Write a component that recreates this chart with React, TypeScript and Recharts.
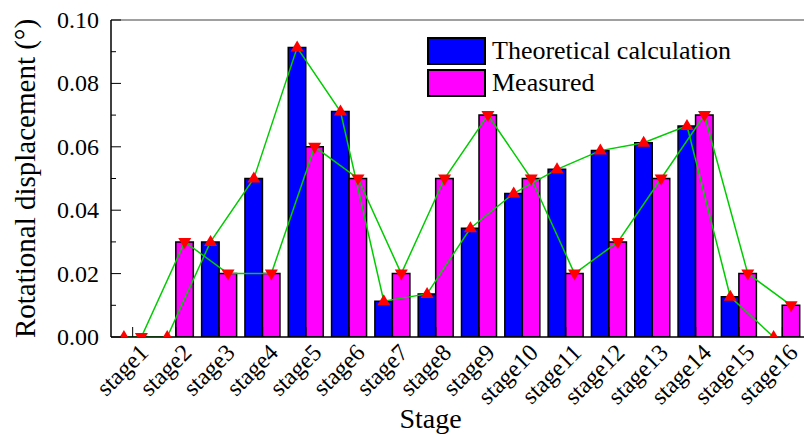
import React from 'react';
import { ComposedChart, Bar, Line, XAxis, YAxis, ReferenceLine, Legend, Label } from 'recharts';

const stages = ['stage1', 'stage2', 'stage3', 'stage4', 'stage5', 'stage6', 'stage7', 'stage8', 'stage9', 'stage10', 'stage11', 'stage12', 'stage13', 'stage14', 'stage15', 'stage16'];
const theoretical = [0, 0, 0.030, 0.050, 0.0913, 0.0711, 0.0113, 0.0136, 0.0343, 0.0453, 0.0529, 0.0588, 0.0613, 0.0666, 0.0127, 0];
const measured = [0, 0.03, 0.02, 0.02, 0.06, 0.05, 0.02, 0.05, 0.07, 0.05, 0.02, 0.03, 0.05, 0.07, 0.02, 0.01];
const yTicks = [0, 0.01, 0.02, 0.03, 0.04, 0.05, 0.06, 0.07, 0.08, 0.09, 0.1];
const yMajorTicks = [0, 0.02, 0.04, 0.06, 0.08, 0.1];
const seriesNames = ['Theoretical calculation', 'Measured'];

const data = stages.map((s, i) => ({ stage: s, theoretical: theoretical[i], measured: measured[i] }));

const FONT = '"Liberation Serif", "Times New Roman", serif';
const BLUE = '#0000ff';
const MAGENTA = '#ff00ff';
const GREEN = '#00cc00';
const RED = '#ff0000';

const XTick = (props: any) => {
  const { x, y, payload } = props;
  return (
    <g>
      <line x1={x} y1={y} x2={x} y2={y - 10} stroke="#000" strokeWidth={1} />
      <text
        x={x + 17}
        y={y + 17}
        textAnchor="end"
        transform={`rotate(-45, ${x + 17}, ${y + 17})`}
        fontFamily={FONT}
        fontSize={24}
        fill="#000"
      >
        {payload.value}
      </text>
    </g>
  );
};

const YTick = (props: any) => {
  const { x, y, payload } = props;
  const major = yMajorTicks.some((t) => Math.abs(t - payload.value) < 1e-9);
  return (
    <g>
      <line x1={x} y1={y} x2={x + (major ? 10 : 5)} y2={y} stroke="#000" strokeWidth={1} />
      {major && (
        <text x={x - 12} y={y + 8} textAnchor="end" fontFamily={FONT} fontSize={24} fill="#000">
          {payload.value.toFixed(2)}
        </text>
      )}
    </g>
  );
};

const UpTri = (props: any) => {
  const { cx, cy } = props;
  if (cx == null || cy == null) return null;
  return <path d={`M${cx},${cy - 7} L${cx + 6.5},${cy + 4} L${cx - 6.5},${cy + 4} Z`} fill={RED} />;
};

const DownTri = (props: any) => {
  const { cx, cy } = props;
  if (cx == null || cy == null) return null;
  return <path d={`M${cx - 6.5},${cy - 4} L${cx + 6.5},${cy - 4} L${cx},${cy + 7} Z`} fill={RED} />;
};

const StageLabel = (props: any) => {
  const { viewBox } = props;
  const cx = viewBox.x + viewBox.width / 2 - 27;
  return (
    <text x={cx} y={viewBox.y + 91} textAnchor="middle" fontFamily={FONT} fontSize={28} fill="#000">
      Stage
    </text>
  );
};

const YLabel = () => (
  <text x={35} y={178.5} textAnchor="middle" transform="rotate(-90, 35, 178.5)" fontFamily={FONT} fontSize={29} fill="#000">
    Rotational displacement (°)
  </text>
);

const LegendContent = () => {
  const colors = [BLUE, MAGENTA];
  return (
    <div style={{ fontFamily: FONT }}>
      {seriesNames.map((n, i) => (
        <div key={n} style={{ display: 'flex', alignItems: 'center', height: 28, marginBottom: 4 }}>
          <div style={{ width: 59, height: 28, boxSizing: 'border-box', border: '2px solid #000', background: colors[i] }} />
          <span style={{ marginLeft: 6, fontSize: 26, lineHeight: '28px', color: '#000', whiteSpace: 'nowrap' }}>{n}</span>
        </div>
      ))}
    </div>
  );
};

export default function App() {
  return (
    <div style={{ position: 'absolute', left: 0, top: 0, width: 806, height: 437, background: '#fff' }}>
      <ComposedChart
        width={806}
        height={437}
        data={data}
        margin={{ top: 20, right: 2, bottom: 0, left: 0 }}
        barGap={0}
        barSize={17.5}
      >
        <XAxis
          dataKey="stage"
          xAxisId={0}
          height={100}
          interval={0}
          tick={<XTick />}
          tickLine={false}
          tickSize={0}
          tickMargin={0}
          axisLine={{ stroke: '#000', strokeWidth: 1.5 }}
          label={<Label content={StageLabel} />}
        />
        <XAxis dataKey="stage" xAxisId="t" hide padding={{ left: -8.75, right: 8.75 }} />
        <XAxis dataKey="stage" xAxisId="m" hide padding={{ left: 8.75, right: -8.75 }} />
        <YAxis
          width={111}
          domain={[0, 0.1]}
          ticks={yTicks}
          interval={0}
          tick={<YTick />}
          tickLine={false}
          tickSize={0}
          tickMargin={0}
          axisLine={{ stroke: '#000', strokeWidth: 1.5 }}
          allowDataOverflow
          label={<Label content={YLabel} />}
        />
        <ReferenceLine xAxisId={0} y={0.1} stroke="#808080" strokeWidth={1.5} />
        <Bar xAxisId={0} dataKey="theoretical" name={seriesNames[0]} fill={BLUE} stroke="#000" strokeWidth={1.5} isAnimationActive={false} />
        <Bar xAxisId={0} dataKey="measured" name={seriesNames[1]} fill={MAGENTA} stroke="#000" strokeWidth={1.5} isAnimationActive={false} />
        <Line xAxisId="t" dataKey="theoretical" stroke={GREEN} strokeWidth={1.5} dot={<UpTri />} activeDot={false} isAnimationActive={false} legendType="none" />
        <Line xAxisId="m" dataKey="measured" stroke={GREEN} strokeWidth={1.5} dot={<DownTri />} activeDot={false} isAnimationActive={false} legendType="none" />
        <Legend
          layout="horizontal"
          verticalAlign="middle"
          content={<LegendContent />}
          wrapperStyle={{ position: 'absolute', left: 427, top: 37, width: 'auto' }}
        />
      </ComposedChart>
    </div>
  );
}
